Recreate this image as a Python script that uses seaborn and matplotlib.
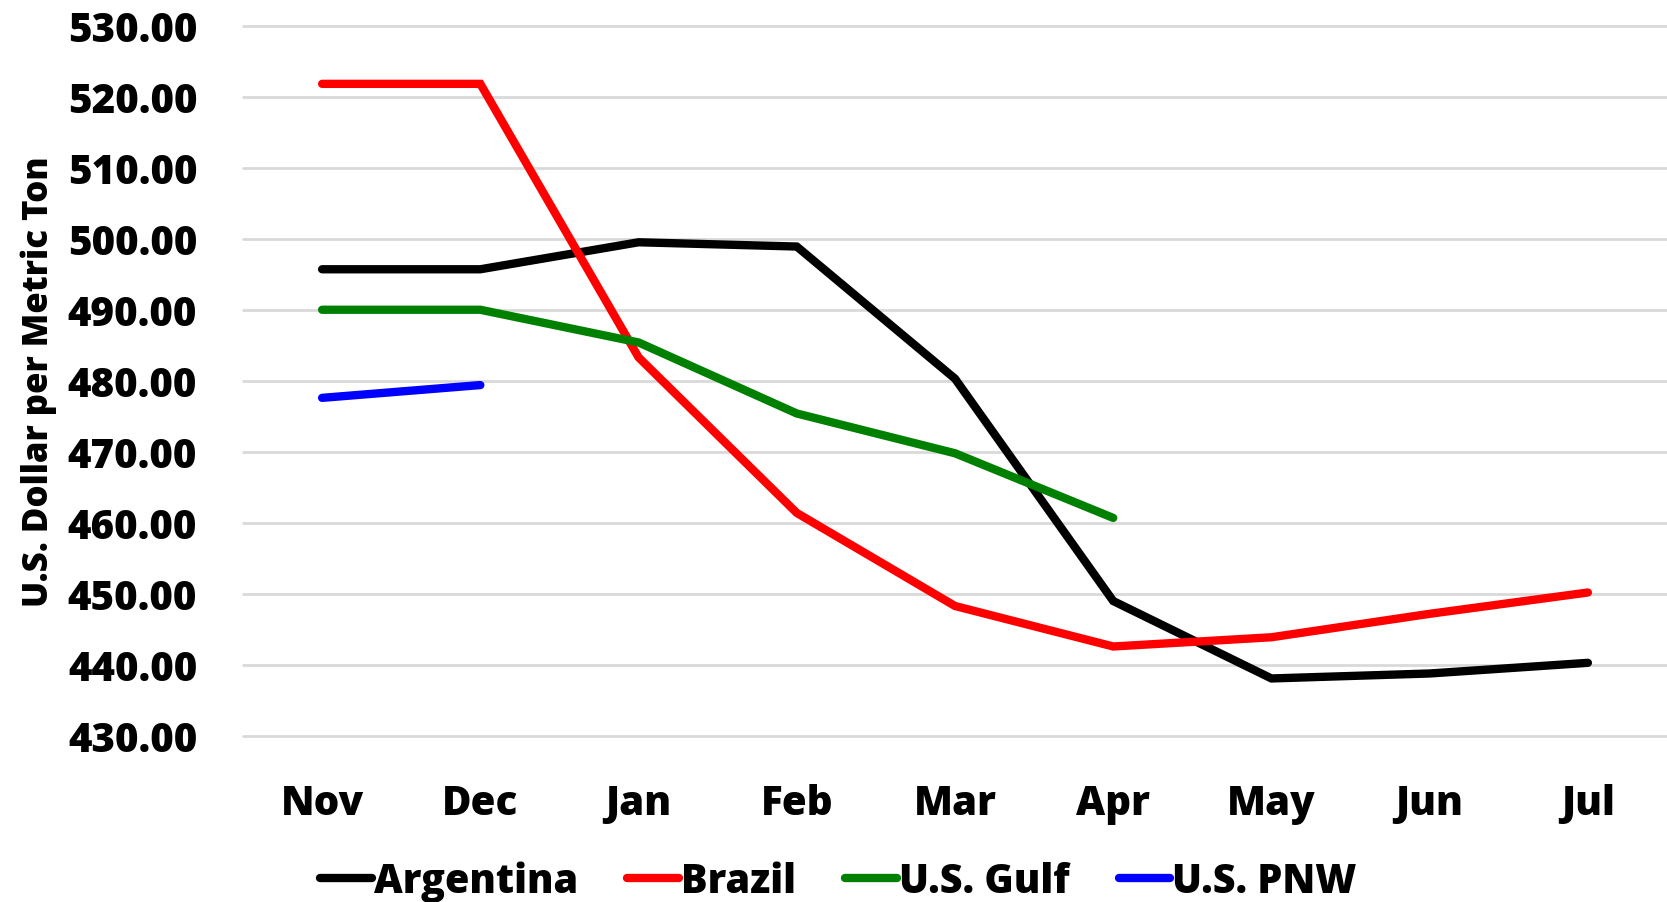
import numpy as np
import pandas as pd
import matplotlib
matplotlib.use("Agg")
import matplotlib.pyplot as plt
import seaborn as sns
from matplotlib.ticker import FormatStrFormatter
from matplotlib.lines import Line2D

months = ["Nov", "Dec", "Jan", "Feb", "Mar", "Apr", "May", "Jun", "Jul"]
argentina = [495.7, 495.7, 499.5, 498.9, 480.3, 449.0, 438.1, 438.8, 440.3]
brazil = [521.8, 521.8, 483.3, 461.4, 448.3, 442.6, 443.9, 447.2, 450.2]
us_gulf = [490.0, 490.0, 485.4, 475.4, 469.8, 460.7]
us_pnw = [477.6, 479.4]

series_names = ["Argentina", "Brazil", "U.S. Gulf", "U.S. PNW"]
series_vals = [argentina, brazil, us_gulf, us_pnw]
colors = ["#000000", "#ff0000", "#008000", "#0000ff"]

rows = []
for name, vals in zip(series_names, series_vals):
    for m, v in zip(months, vals):
        rows.append({"Month": m, "Price": v, "Series": name})
df = pd.DataFrame(rows)

sns.set_theme(style="white")
plt.rcParams["font.family"] = ["Open Sans", "DejaVu Sans"]
plt.rcParams["font.weight"] = "heavy"
plt.rcParams["text.color"] = "black"
plt.rcParams["axes.labelcolor"] = "black"
plt.rcParams["xtick.color"] = "black"
plt.rcParams["ytick.color"] = "black"

fig = plt.figure(figsize=(16.67, 9.03), dpi=100)
ax = fig.add_axes([243 / 1667, 1 - 737 / 903, 1 - 243 / 1667, (737 - 26.6) / 903])

month_pos = {m: i for i, m in enumerate(months)}
df["x"] = df["Month"].map(month_pos)

LW = 6.0
sns.lineplot(data=df, x="x", y="Price", hue="Series", hue_order=series_names,
             palette=colors, linewidth=LW, sort=False, ax=ax, legend=False,
             estimator=None)
for ln in ax.get_lines():
    ln.set_solid_capstyle("round")
    ln.set_solid_joinstyle("miter")

ax.set_xlim(-0.5, len(months) - 0.5)
ax.set_ylim(430, 530)
ax.set_yticks(np.arange(430, 531, 10))
ax.yaxis.set_major_formatter(FormatStrFormatter("%.2f"))
ax.set_xticks(range(len(months)))
ax.set_xticklabels(months)
ax.grid(axis="y", color="#d9d9d9", linewidth=2)
ax.grid(axis="x", visible=False)
for gl in ax.get_ygridlines():
    gl.set_clip_on(False)
for s in ax.spines.values():
    s.set_visible(False)
ax.tick_params(axis="both", length=0, labelsize=29, labelcolor="black")
ax.tick_params(axis="x", pad=34)
ax.tick_params(axis="y", pad=33)
for lab in ax.get_xticklabels() + ax.get_yticklabels():
    lab.set_fontweight("heavy")
ax.set_xlabel("")
ax.set_ylabel("U.S. Dollar per Metric Ton", fontsize=25, fontweight="heavy",
              labelpad=8, color="black")

handles = [Line2D([], [], color=c, linewidth=LW, solid_capstyle="round") for c in colors]
leg = fig.legend(handles, series_names, loc="center", bbox_to_anchor=(0.503, 1 - 882 / 903),
                 ncol=4, frameon=False, handlelength=1.3, handletextpad=0.05,
                 columnspacing=1.25, prop={"size": 28.5, "weight": "heavy"})
for t in leg.get_texts():
    t.set_color("black")

fig.savefig("out.png", dpi=100)
